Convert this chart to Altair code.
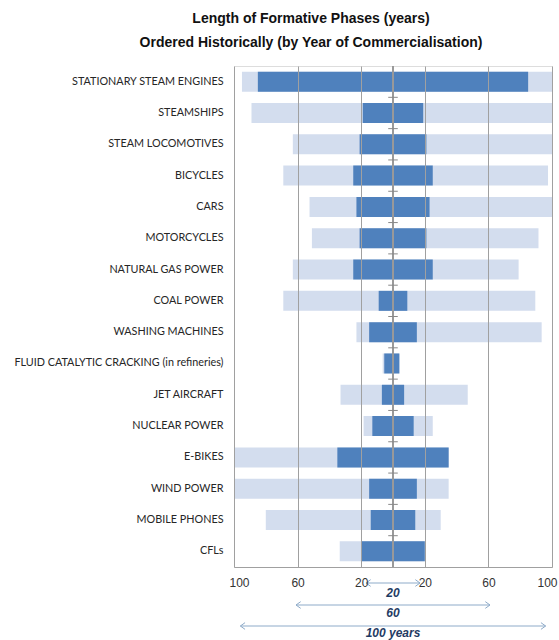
import altair as alt
import pandas as pd

categories = [
    "STATIONARY STEAM ENGINES", "STEAMSHIPS", "STEAM LOCOMOTIVES", "BICYCLES",
    "CARS", "MOTORCYCLES", "NATURAL GAS POWER", "COAL POWER",
    "WASHING MACHINES", "FLUID CATALYTIC CRACKING (in refineries)", "JET AIRCRAFT",
    "NUCLEAR POWER", "E-BIKES", "WIND POWER", "MOBILE PHONES", "CFLs",
]
dark_left = [85, 19, 21, 25, 23, 21, 25, 9, 15, 5.5, 7, 13, 35, 15, 14, 20]
dark_right = [85, 19, 21, 25, 23, 21, 25, 9, 15, 4, 7, 13, 35, 15, 14, 20]
light_left = [95, 89, 63, 69, 52.5, 51, 63, 69, 23, 6.5, 33, 18.5, 100, 100, 80, 33.5]
light_right = [100, 100, 100, 97.5, 100, 91.5, 79, 89.5, 93.5, 4, 47, 25, 35, 35, 30, 20]

x_ticks = [-100, -60, -20, 20, 60, 100]
arrow_labels = ["20", "60", "100 years"]
arrow_half_span = [17, 61, 96]

df = pd.DataFrame({
    "cat": categories,
    "dl": [-v for v in dark_left],
    "dr": dark_right,
    "ll": [-v for v in light_left],
    "lr": light_right,
})

yscale = alt.Scale(domain=categories, paddingInner=0, paddingOuter=0)
xscale = alt.Scale(domain=[-100, 100], nice=False, zero=False)
yaxis = alt.Axis(labelFont="Lato", labelFontSize=10.8, labelColor="#262626",
                 labelPadding=11, ticks=False, domain=False, labelLimit=300,
                 grid=False, title=None)

base = alt.Chart(df)

light = base.mark_bar(size=20, color="#d3ddee").encode(
    y=alt.Y("cat:N", sort=categories, scale=yscale, axis=yaxis),
    x=alt.X("ll:Q", scale=xscale, title=None,
            axis=alt.Axis(values=x_ticks, labelExpr="abs(datum.value)", grid=True,
                          gridColor="#a0a0a0", domainColor="#a0a0a0", ticks=False,
                          labelFont="Liberation Sans", labelFontSize=12, labelColor="#333333",
                          labelPadding=10, labelFlush=True, labelFlushOffset=5, zindex=1)),
    x2="lr:Q",
)

dark = base.mark_bar(size=20, color="#4f81bd").encode(
    y=alt.Y("cat:N", sort=categories, scale=yscale, axis=yaxis),
    x=alt.X("dl:Q", scale=xscale),
    x2="dr:Q",
)

zero_line = base.mark_rule(color="#999999", strokeWidth=1).encode(
    x=alt.datum(0)
)

tick_df = pd.DataFrame({"cat": categories[1:]})
ticks = alt.Chart(tick_df).mark_rule(color="#888888", strokeWidth=1).encode(
    y=alt.Y("cat:N", sort=categories, scale=yscale, axis=yaxis, bandPosition=0),
    x=alt.datum(-3),
    x2=alt.datum(3),
)

plot = alt.layer(light, dark, zero_line, ticks)

arrow_rows = [517, 539, 560]
text_rows = [527, 547, 567]
arrow_layers = []
for lab, half, ay, ty in zip(arrow_labels, arrow_half_span, arrow_rows, text_rows):
    adf = pd.DataFrame({"lo": [-half], "hi": [half], "label": [lab], "mid": [0]})
    ac = alt.Chart(adf)
    arrow_layers.append(ac.mark_rule(color="#8eabc9", strokeWidth=1).encode(
        x=alt.X("lo:Q", scale=xscale), x2="hi:Q", y=alt.value(ay)))
    arrow_layers.append(ac.mark_point(shape="M 1.4 -1 L 0 0 L 1.4 1", filled=False,
                                      size=45, color="#8eabc9", strokeWidth=1,
                                      opacity=1).encode(
        x=alt.X("lo:Q", scale=xscale), y=alt.value(ay)))
    arrow_layers.append(ac.mark_point(shape="M -1.4 -1 L 0 0 L -1.4 1", filled=False,
                                      size=45, color="#8eabc9", strokeWidth=1,
                                      opacity=1).encode(
        x=alt.X("hi:Q", scale=xscale), y=alt.value(ay)))
    arrow_layers.append(ac.mark_text(font="Liberation Sans",
                                     fontSize=12, fontWeight="bold", fontStyle="italic",
                                     color="#1f3b64", baseline="middle").encode(
        x=alt.X("mid:Q", scale=xscale), y=alt.value(ty), text="label:N"))

chart = alt.layer(plot, *arrow_layers).properties(
    width=318,
    height=501,
    autosize=alt.AutoSizeParams(type="none"),
    padding={"left": 234, "top": 66, "right": 7, "bottom": 73},
    title=alt.TitleParams(
        text=["Length of Formative Phases (years)",
              "Ordered Historically (by Year of Commercialisation)"],
        font="Liberation Sans",
        fontSize=14, fontWeight="bold", color="#111111",
        anchor="middle", dx=-82, offset=16, lineHeight=24,
    ),
).configure_view(stroke=None).configure(background="white")

chart.save("out.html", embed_options={"renderer": "svg", "actions": False})
